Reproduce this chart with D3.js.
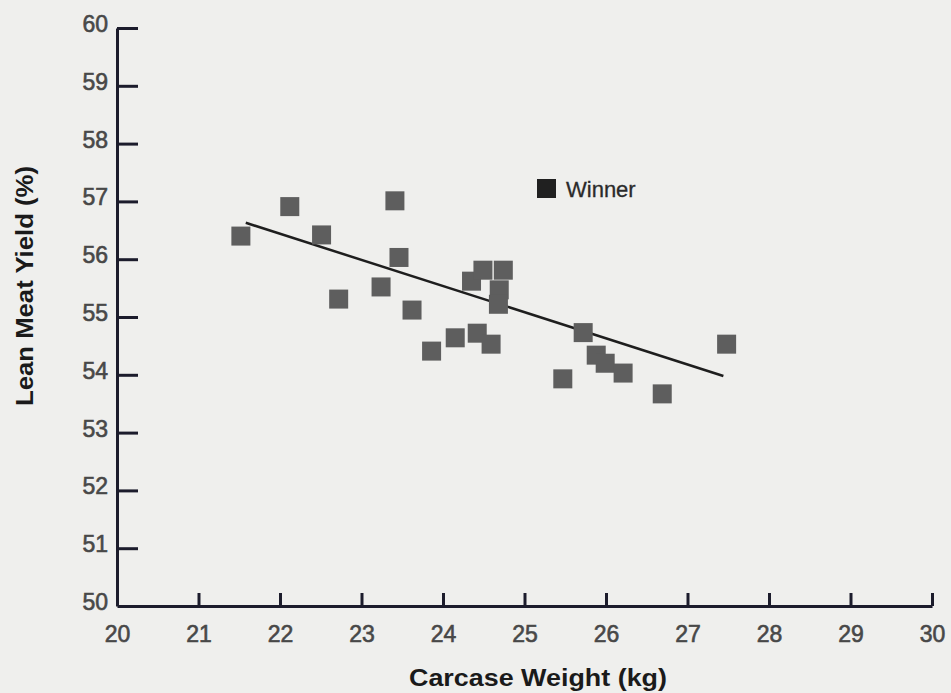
<!DOCTYPE html>
<html>
<head>
<meta charset="utf-8">
<script src="https://cdn.jsdelivr.net/npm/d3@7"></script>
<style>
  body { margin: 0; background: #efefed; }
  svg { display: block; }
</style>
</head>
<body>
<div id="chart"></div>
<script>
// carcase weight (kg) and lean meat yield (%) for each animal
const weights = [21.52, 22.12, 22.51, 23.41, 23.46, 22.72, 23.24, 23.62, 23.86, 24.15, 24.42, 24.59,
                 24.35, 24.49, 24.74, 24.69, 24.68, 25.72, 25.88, 25.99, 26.21, 25.47, 26.69, 27.48];
const yields  = [56.40, 56.91, 56.42, 57.01, 56.03, 55.31, 55.52, 55.12, 54.41, 54.64, 54.72, 54.53,
                 55.62, 55.81, 55.81, 55.47, 55.22, 54.73, 54.34, 54.20, 54.03, 53.93, 53.67, 54.53];

// trend line end points
const trendX = [21.58, 27.44];
const trendY = [56.63, 53.98];

const xTicks = [20, 21, 22, 23, 24, 25, 26, 27, 28, 29, 30];
const yTicks = [50, 51, 52, 53, 54, 55, 56, 57, 58, 59, 60];

const legendLabel = "Winner";

function draw(){
    const w = 951;
    const h = 693;
    const font = "Liberation Sans, Arial, sans-serif";

    const svg = d3.select("#chart").append("svg")
        .attr("width", w)
        .attr("height", h);

    const xScale = d3.scaleLinear().domain([20, 30]).range([117, 932]);
    const yScale = d3.scaleLinear().domain([50, 60]).range([606, 28]);

    // y axis, ticks pointing into the plot
    const yAxis = svg.append("g")
        .attr("transform", "translate(" + xScale(20) + ",0)")
        .call(d3.axisLeft(yScale).tickValues(yTicks).tickSizeInner(-21).tickSizeOuter(0).tickPadding(9));

    // x axis, ticks pointing up
    const xAxis = svg.append("g")
        .attr("transform", "translate(0," + yScale(50) + ")")
        .call(d3.axisBottom(xScale).tickValues(xTicks).tickSizeInner(-13).tickSizeOuter(0).tickPadding(20));

    [yAxis, xAxis].forEach((ax) => {
        ax.select(".domain").attr("stroke", "#1c1c2c").attr("stroke-width", 3);
        ax.selectAll(".tick line").attr("stroke", "#1c1c2c").attr("stroke-width", 3);
        ax.selectAll(".tick text")
            .attr("fill", "#484848")
            .attr("stroke", "#484848")
            .attr("stroke-width", 0.6)
            .attr("font-family", font)
            .attr("font-size", "23px");
    });
    yAxis.selectAll(".tick text").attr("dy", "0.15em");
    yAxis.selectAll(".tick").filter((d) => d == 50).select("line").remove();
    xAxis.selectAll(".tick").filter((d) => d == 20).select("line").remove();

    // trend line
    svg.append("line")
        .attr("x1", xScale(trendX[0]))
        .attr("y1", yScale(trendY[0]))
        .attr("x2", xScale(trendX[1]))
        .attr("y2", yScale(trendY[1]))
        .attr("stroke", "#1e1e1e")
        .attr("stroke-width", 2.5);

    // points
    const s = 19;
    svg.selectAll("rect.point")
        .data(weights)
        .enter()
        .append("rect")
        .attr("class", "point")
        .attr("x", (d) => xScale(d) - s / 2)
        .attr("y", (d, i) => yScale(yields[i]) - s / 2)
        .attr("width", s)
        .attr("height", s)
        .attr("fill", "#5e5e5e");

    // legend
    svg.append("rect")
        .attr("x", 537)
        .attr("y", 179)
        .attr("width", 19)
        .attr("height", 19)
        .attr("fill", "#202020");
    svg.append("text")
        .attr("x", 566)
        .attr("y", 197)
        .attr("fill", "#2a2a2a")
        .attr("stroke", "#2a2a2a")
        .attr("stroke-width", 0.3)
        .attr("font-family", font)
        .attr("font-size", "22px")
        .text(legendLabel);

    // axis titles
    svg.append("text")
        .attr("transform", "translate(33,286) rotate(-90)")
        .attr("text-anchor", "middle")
        .attr("fill", "#1a1a1a")
        .attr("font-family", font)
        .attr("font-weight", "bold")
        .attr("font-size", "24px")
        .attr("textLength", 240)
        .attr("lengthAdjust", "spacingAndGlyphs")
        .text("Lean Meat Yield (%)");

    svg.append("text")
        .attr("x", 538)
        .attr("y", 686)
        .attr("text-anchor", "middle")
        .attr("fill", "#1a1a1a")
        .attr("font-family", font)
        .attr("font-weight", "bold")
        .attr("font-size", "24px")
        .attr("textLength", 258)
        .attr("lengthAdjust", "spacingAndGlyphs")
        .text("Carcase Weight (kg)");
}

draw();
</script>
</body>
</html>
